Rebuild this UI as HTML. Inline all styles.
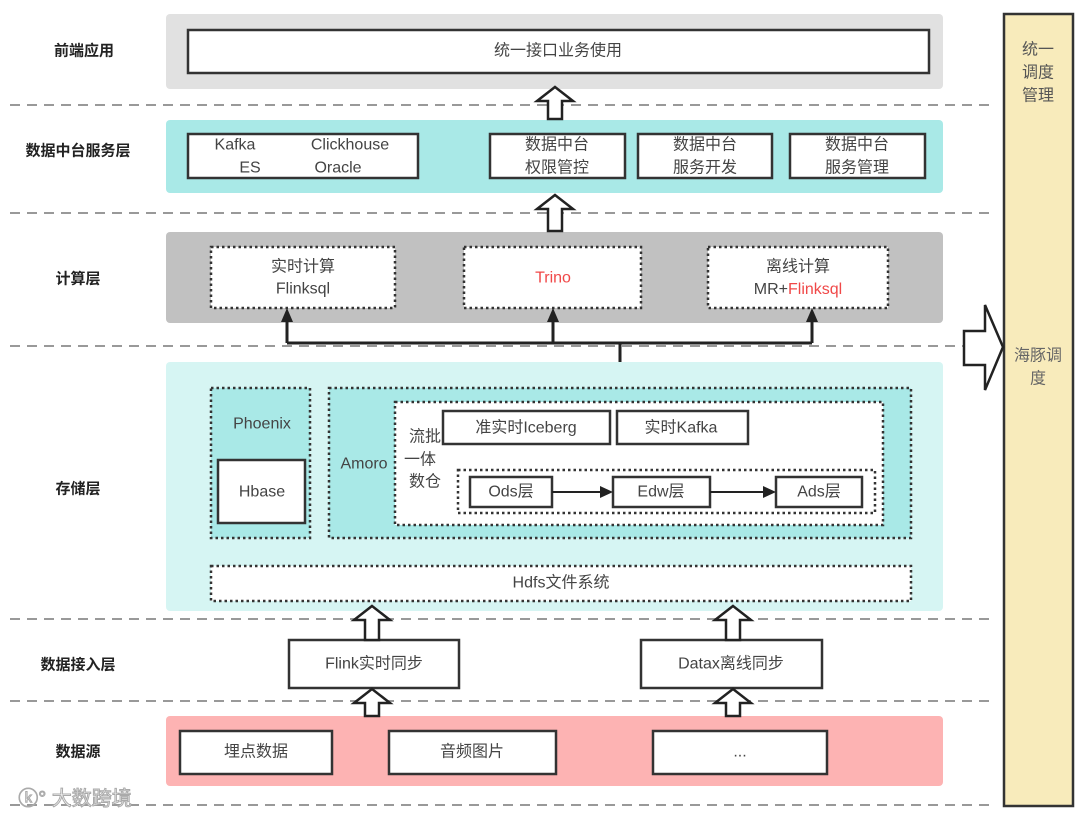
<!DOCTYPE html>
<html><head><meta charset="utf-8"><style>
html,body{margin:0;padding:0;background:#fff;}
svg{display:block;}
text{font-family:"Liberation Sans","Noto Sans CJK SC",sans-serif;font-size:16px;fill:#444;text-anchor:middle;dominant-baseline:central;}
.lbl{font-weight:bold;fill:#222;font-size:15px;}
.box{fill:#fff;stroke:#333;stroke-width:2.5;}
.dot{fill:#fff;stroke:#333;stroke-width:2.5;stroke-dasharray:2.5 3;}
.dash{stroke:#999;stroke-width:2;stroke-dasharray:10 7;}
.harr{fill:#fff;stroke:#222;stroke-width:2.5;stroke-linejoin:miter;}
</style></head><body>
<svg width="1080" height="819" viewBox="0 0 1080 819">
<!-- dashed separators -->
<line class="dash" x1="10" y1="105" x2="995" y2="105"/>
<line class="dash" x1="10" y1="213" x2="995" y2="213"/>
<line class="dash" x1="10" y1="346" x2="995" y2="346"/>
<line class="dash" x1="10" y1="619" x2="995" y2="619"/>
<line class="dash" x1="10" y1="701" x2="995" y2="701"/>
<line class="dash" x1="10" y1="805" x2="995" y2="805"/>

<!-- right column -->
<rect x="1004" y="14" width="69" height="792" fill="#f8ebbb" stroke="#333" stroke-width="2.5"/>
<text x="1038" y="50" style="fill:#555">统一</text>
<text x="1038" y="73" style="fill:#555">调度</text>
<text x="1038" y="96" style="fill:#555">管理</text>
<text x="1038" y="356" style="fill:#666">海豚调</text>
<text x="1038" y="379" style="fill:#666">度</text>
<polygon class="harr" points="964,331 985,331 985,305 1003,347 985,390 985,365 964,365"/>

<!-- left labels -->
<text class="lbl" x="84" y="51">前端应用</text>
<text class="lbl" x="78" y="151">数据中台服务层</text>
<text class="lbl" x="78" y="279">计算层</text>
<text class="lbl" x="78" y="489">存储层</text>
<text class="lbl" x="78" y="665">数据接入层</text>
<text class="lbl" x="78" y="752">数据源</text>

<!-- 前端应用 -->
<rect x="166" y="14" width="777" height="75" rx="4" fill="#e1e1e1"/>
<rect class="box" x="188" y="30" width="741" height="43"/>
<text x="558" y="51">统一接口业务使用</text>

<!-- 服务层 -->
<rect x="166" y="120" width="777" height="73" rx="4" fill="#a9e9e7"/>
<rect class="box" x="188" y="134" width="230" height="44"/>
<text x="235" y="145">Kafka</text><text x="350" y="145">Clickhouse</text>
<text x="250" y="168">ES</text><text x="338" y="168">Oracle</text>
<rect class="box" x="490" y="134" width="135" height="44"/>
<text x="557" y="145">数据中台</text><text x="557" y="168">权限管控</text>
<rect class="box" x="638" y="134" width="134" height="44"/>
<text x="705" y="145">数据中台</text><text x="705" y="168">服务开发</text>
<rect class="box" x="790" y="134" width="135" height="44"/>
<text x="857" y="145">数据中台</text><text x="857" y="168">服务管理</text>

<!-- 计算层 -->
<rect x="166" y="232" width="777" height="91" rx="4" fill="#c1c1c1"/>
<rect class="dot" x="211" y="247" width="184" height="61"/>
<text x="303" y="267">实时计算</text><text x="303" y="289">Flinksql</text>
<rect class="dot" x="464" y="247" width="177" height="61"/>
<text x="553" y="278" style="fill:#f04848">Trino</text>
<rect class="dot" x="708" y="247" width="180" height="61"/>
<text x="798" y="267">离线计算</text>
<text x="798" y="289"><tspan>MR+</tspan><tspan style="fill:#f04848">Flinksql</tspan></text>

<!-- connectors -->
<g stroke="#222" stroke-width="3" fill="none">
<line x1="620" y1="388" x2="620" y2="343"/>
<line x1="287" y1="343" x2="812" y2="343"/>
<line x1="287" y1="343" x2="287" y2="320"/>
<line x1="553" y1="343" x2="553" y2="320"/>
<line x1="812" y1="343" x2="812" y2="320"/>
</g>
<g fill="#222">
<polygon points="287,308 281,322 293,322"/>
<polygon points="553,308 547,322 559,322"/>
<polygon points="812,308 806,322 818,322"/>
</g>

<!-- 存储层 -->
<rect x="166" y="362" width="777" height="249" rx="4" fill="#d6f5f3"/>
<rect x="211" y="388" width="99" height="150" fill="#a9e9e7" stroke="#333" stroke-width="2.5" stroke-dasharray="2.5 3"/>
<text x="262" y="424">Phoenix</text>
<rect class="box" x="218" y="460" width="87" height="63"/>
<text x="262" y="492">Hbase</text>
<rect x="329" y="388" width="582" height="150" fill="#a9e9e7" stroke="#333" stroke-width="2.5" stroke-dasharray="2.5 3"/>
<text x="364" y="464">Amoro</text>
<rect class="dot" x="395" y="402" width="488" height="123"/>
<text x="425" y="437">流批</text><text x="420" y="460">一体</text><text x="425" y="482">数仓</text>
<rect class="box" x="443" y="411" width="167" height="33"/>
<text x="526" y="428">准实时Iceberg</text>
<rect class="box" x="617" y="411" width="131" height="33"/>
<text x="681" y="428">实时Kafka</text>
<rect class="dot" x="458" y="470" width="417" height="43"/>
<rect class="box" x="470" y="477" width="82" height="30"/>
<text x="511" y="492">Ods层</text>
<rect class="box" x="613" y="477" width="97" height="30"/>
<text x="661" y="492">Edw层</text>
<rect class="box" x="776" y="477" width="86" height="30"/>
<text x="819" y="492">Ads层</text>
<g stroke="#222" stroke-width="2"><line x1="552" y1="492" x2="603" y2="492"/><line x1="710" y1="492" x2="766" y2="492"/></g>
<g fill="#222"><polygon points="613,492 600,486 600,498"/><polygon points="776,492 763,486 763,498"/></g>
<rect class="dot" x="211" y="566" width="700" height="35"/>
<text x="561" y="583">Hdfs文件系统</text>

<!-- 接入层 -->
<rect class="box" x="289" y="640" width="170" height="48"/>
<text x="374" y="664">Flink实时同步</text>
<rect class="box" x="641" y="640" width="181" height="48"/>
<text x="731" y="664">Datax离线同步</text>

<!-- 数据源 -->
<rect x="166" y="716" width="777" height="70" rx="4" fill="#fdb3b3"/>
<rect class="box" x="180" y="731" width="152" height="43"/>
<text x="256" y="752">埋点数据</text>
<rect class="box" x="389" y="731" width="167" height="43"/>
<text x="472" y="752">音频图片</text>
<rect class="box" x="653" y="731" width="174" height="43"/>
<text x="740" y="752">...</text>

<!-- hollow up arrows -->
<polygon class="harr" points="555,87 573,101 562,101 562,119 548,119 548,101 537,101"/>
<polygon class="harr" points="555,195 573,209 562,209 562,231 548,231 548,209 537,209"/>
<polygon class="harr" points="372,606 390,620 379,620 379,640 365,640 365,620 354,620"/>
<polygon class="harr" points="733,606 751,620 740,620 740,640 726,640 726,620 715,620"/>
<polygon class="harr" points="372,689 390,703 379,703 379,716 365,716 365,703 354,703"/>
<polygon class="harr" points="733,689 751,703 740,703 740,716 726,716 726,703 715,703"/>

<!-- watermark -->
<text x="75" y="799" style="fill:#fff;stroke:#aaa;stroke-width:1;font-size:20px;">ⓚ° 大数跨境</text>
</svg>
</body></html>
